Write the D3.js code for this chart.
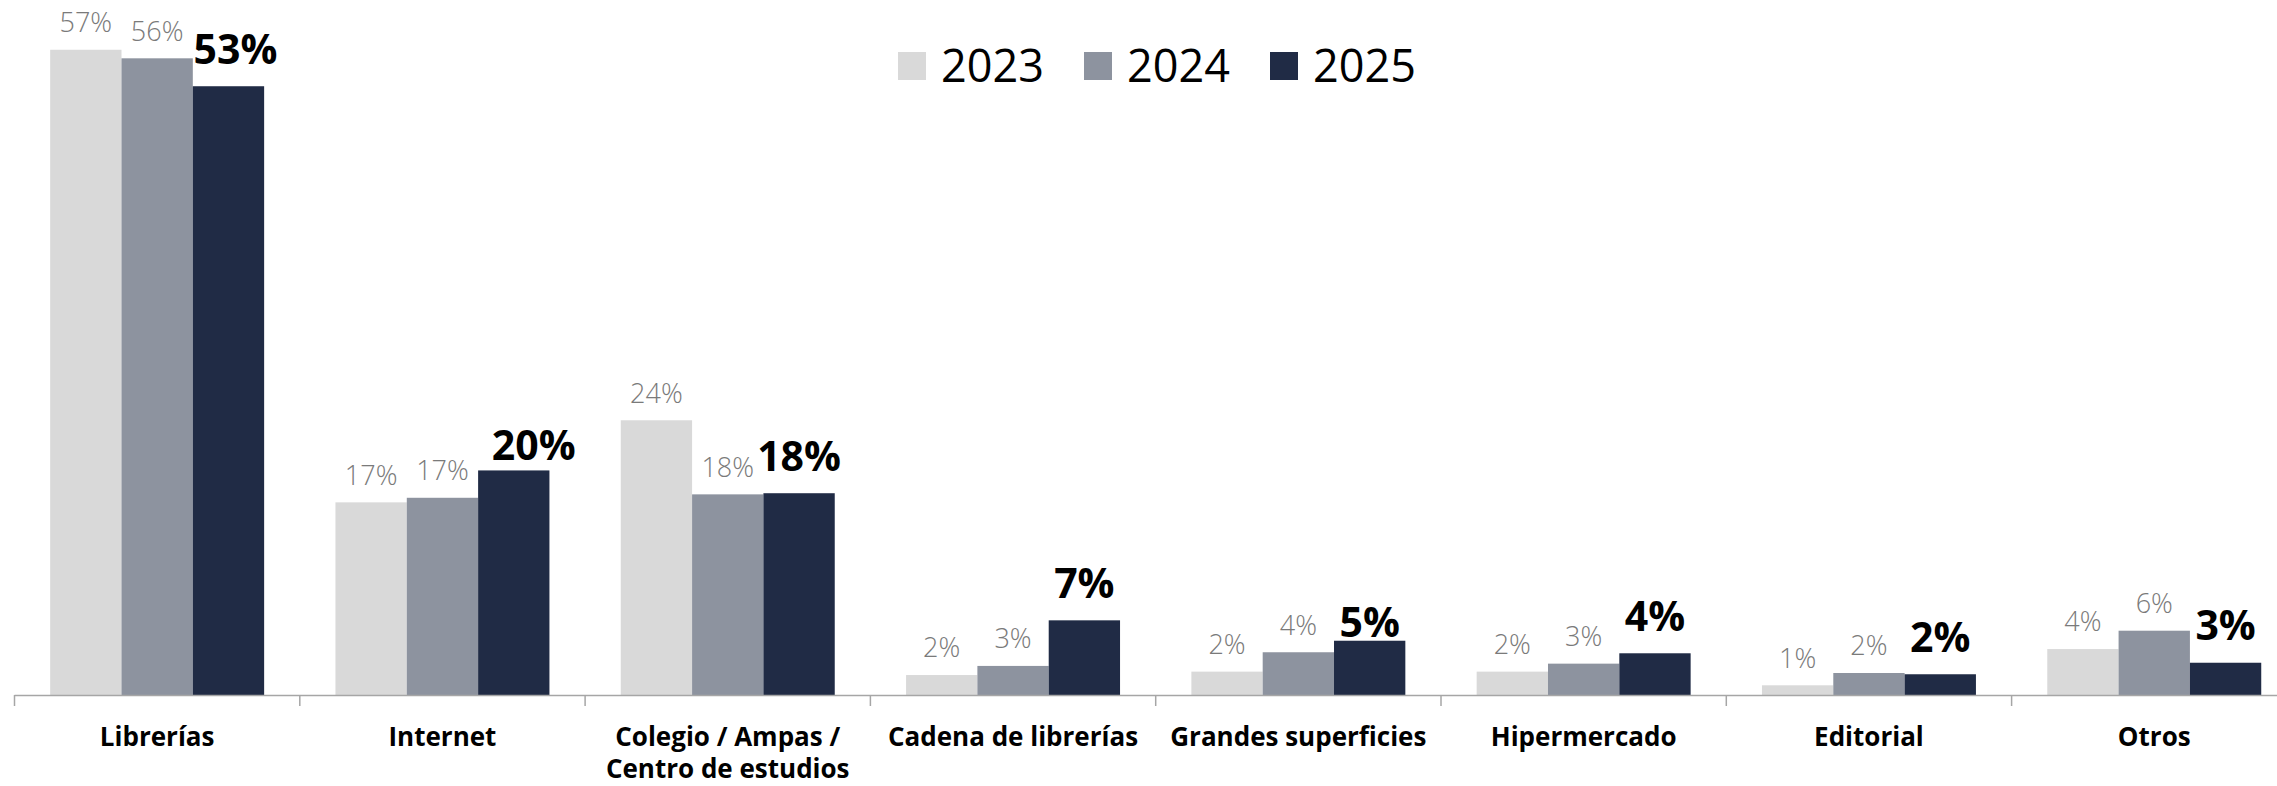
<!DOCTYPE html>
<html>
<head>
<meta charset="utf-8">
<script src="https://cdn.jsdelivr.net/npm/d3@7/dist/d3.min.js"></script>
<style>
  html, body { margin: 0; padding: 0; background: #ffffff; }
  svg { display: block; }
</style>
</head>
<body>
<svg id="chart" width="2277" height="786"></svg>
<script>
// ---- DATA ----
const categories = ["Librerías", "Internet", "Colegio / Ampas / Centro de estudios", "Cadena de librerías", "Grandes superficies", "Hipermercado", "Editorial", "Otros"];
const categoryLines = [["Librerías"], ["Internet"], ["Colegio / Ampas /", "Centro de estudios"], ["Cadena de librerías"], ["Grandes superficies"], ["Hipermercado"], ["Editorial"], ["Otros"]];
const years = ["2023", "2024", "2025"];
const values2023 = [56.6, 16.9, 24.1, 1.75, 2.05, 2.05, 0.85, 4.03];
const values2024 = [55.85, 17.3, 17.6, 2.55, 3.75, 2.75, 1.93, 5.64];
const values2025 = [53.4, 19.7, 17.7, 6.55, 4.76, 3.66, 1.82, 2.83];
const seriesValues = [values2023, values2024, values2025];

// ---- STYLE / LAYOUT ----
const colors = { "2023": "#D9D9D9", "2024": "#8D939F", "2025": "#202B45" };
const W = 2277, H = 786;
const baseY = 695;
const fontFamily = "'Open Sans', 'Noto Sans', sans-serif";
// manual label nudges on the bold (2025) labels, as in the original
const boldNudge = { "Librerías": [7, 0], "Internet": [20, 12.6], "Grandes superficies": [0, 19] };

const svg = d3.select("#chart");
svg.append("rect").attr("width", W).attr("height", H).attr("fill", "#fff");

const x = d3.scaleBand().domain(categories).range([14.5, 2296.9]).padding(0);
const xs = d3.scaleBand().domain(years).range([0, x.bandwidth()]).paddingInner(0).paddingOuter(0.5);
const y = d3.scaleLinear().domain([0, 60]).range([baseY, baseY - 60 * 11.4]);

const data = [];
categories.forEach((c, i) => {
  years.forEach((yr, j) => data.push({ cat: c, year: yr, value: seriesValues[j][i] }));
});

// bars
svg.append("g").selectAll("rect").data(data).join("rect")
  .attr("x", d => x(d.cat) + xs(d.year))
  .attr("y", d => y(d.value))
  .attr("width", xs.bandwidth())
  .attr("height", d => y(0) - y(d.value))
  .attr("fill", d => colors[d.year]);

// axis line + ticks at band boundaries
const axisG = svg.append("g");
axisG.append("line")
  .attr("x1", x.range()[0]).attr("x2", W)
  .attr("y1", baseY + 0.5).attr("y2", baseY + 0.5)
  .attr("stroke", "#A6A6A6").attr("stroke-width", 1.5);
const boundaries = categories.map(c => x(c));
axisG.selectAll("line.tick").data(boundaries).join("line")
  .attr("class", "tick")
  .attr("x1", d => d).attr("x2", d => d)
  .attr("y1", baseY).attr("y2", baseY + 11)
  .attr("stroke", "#A6A6A6").attr("stroke-width", 1.5);

// category labels
const catG = svg.append("g");
categories.forEach((c, i) => {
  const t = catG.append("text")
    .attr("x", x(c) + x.bandwidth() / 2)
    .attr("y", 746)
    .attr("text-anchor", "middle")
    .attr("font-family", fontFamily)
    .attr("font-weight", 700)
    .attr("font-size", 26)
    .attr("fill", "#000");
  categoryLines[i].forEach((ln, k) => {
    t.append("tspan").attr("x", x(c) + x.bandwidth() / 2).attr("dy", k === 0 ? 0 : 32).text(ln);
  });
});

// value labels
svg.append("g").selectAll("text").data(data).join("text")
  .attr("x", d => x(d.cat) + xs(d.year) + xs.bandwidth() / 2 + (d.year === "2025" && boldNudge[d.cat] ? boldNudge[d.cat][0] : 0))
  .attr("y", d => d.year === "2025"
      ? y(d.value) - 22.6 + (boldNudge[d.cat] ? boldNudge[d.cat][1] : 0)
      : y(d.value) - 17.6)
  .attr("text-anchor", "middle")
  .attr("font-family", fontFamily)
  .attr("font-weight", d => d.year === "2025" ? 700 : 300)
  .attr("font-size", d => d.year === "2025" ? 41 : 27)
  .attr("fill", d => d.year === "2025" ? "#000" : "#7A7A7A")
  .text(d => Math.round(d.value) + "%");

// legend
const legend = svg.append("g");
years.forEach((yr, i) => {
  const lx = 898 + i * 186;
  legend.append("rect").attr("x", lx).attr("y", 52).attr("width", 28).attr("height", 28).attr("fill", colors[yr]);
  legend.append("text").attr("x", lx + 43).attr("y", 82)
    .attr("font-family", fontFamily).attr("font-size", 45).attr("fill", "#000").text(yr);
});
</script>
</body>
</html>
